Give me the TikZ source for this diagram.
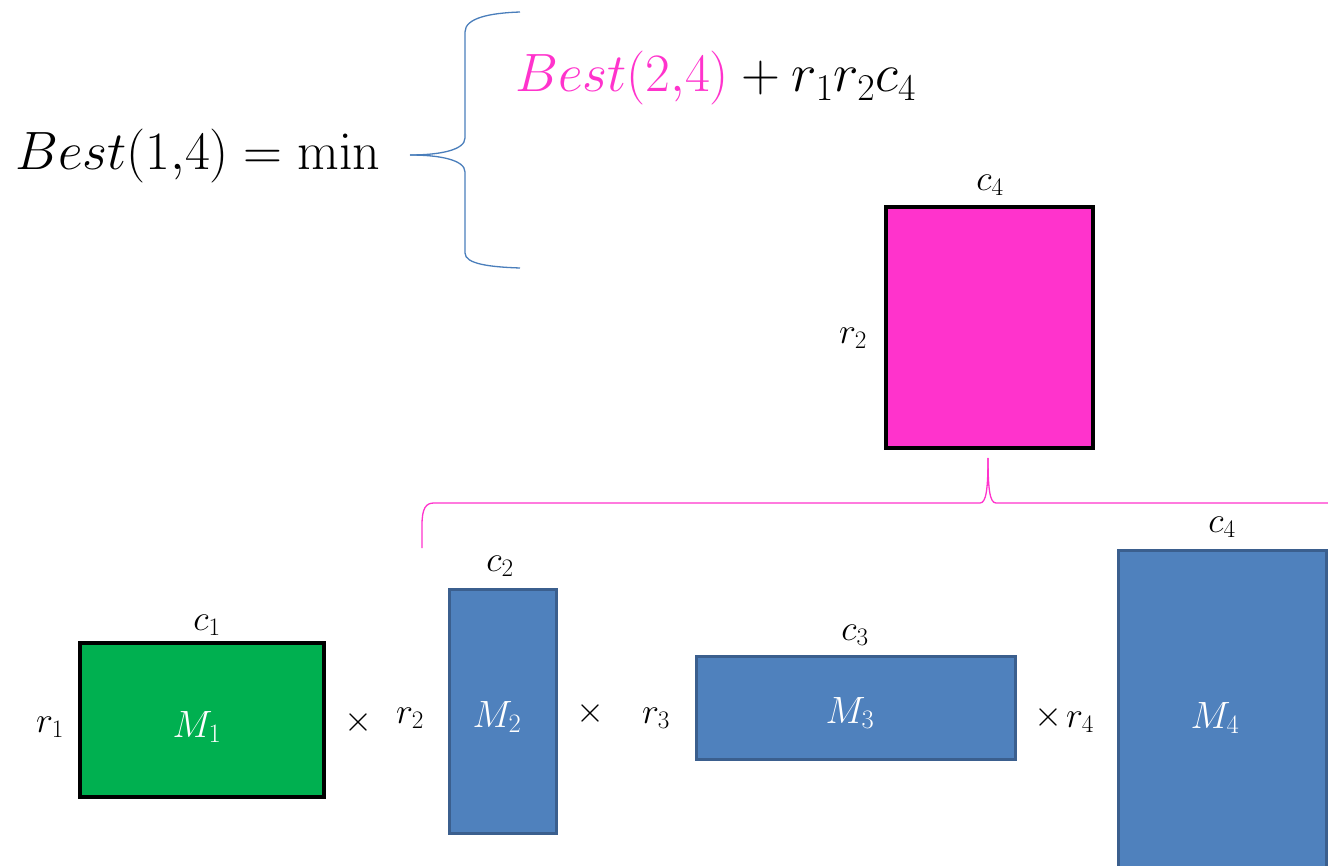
\RequirePackage{fix-cm}
\documentclass[tikz,border=0pt]{standalone}
\definecolor{pinkm}{HTML}{FF33CC}
\definecolor{greenm}{HTML}{00B050}
\definecolor{bluem}{HTML}{4F81BD}
\definecolor{blueb}{HTML}{3B5F8E}
\definecolor{bracebl}{HTML}{4A7EBB}
\tikzset{
  bigtext/.style={font=\fontsize{54}{64}\selectfont, inner sep=0pt},
  lbl/.style={font=\fontsize{36}{42}\selectfont, inner sep=0pt},
  mlbl/.style={font=\fontsize{38}{44}\selectfont, inner sep=0pt, text=white},
  blackbox/.style={draw=black, line width=3.5pt, inner sep=0pt, outer sep=0pt},
  bluebox/.style={draw=blueb, fill=bluem, line width=3pt, inner sep=0pt, outer sep=0pt},
  bluebrace/.style={draw=bracebl, line width=1.3pt},
  pinkbrace/.style={draw=pinkm, line width=1.3pt},
}
\begin{document}
\begin{tikzpicture}[x=1pt,y=-1pt]
\useasboundingbox (0,0) rectangle (1328,866);
\clip (0,0) rectangle (1328,866);

% equations
\node[bigtext, anchor=base west] (eqA) at (15,170) {$Best(1{,}4) = \min$};
\node[bigtext, anchor=base west] (eqB) at (515,92) {$\textcolor{pinkm}{Best(2{,}4)} + r_1r_2c_4$};

% blue brace
\coordinate (btip) at (410,155);
\coordinate (btop) at (520,12);
\coordinate (bbot) at (520,268);
\draw[bluebrace] (btop) .. controls (490,13) and (465,18) .. (465,32)
  -- (465,138) .. controls (465,150) and (440,155) .. (btip);
\draw[bluebrace] (btip) .. controls (440,155) and (465,160) .. (465,172)
  -- (465,253) .. controls (465,264) and (490,267) .. (bbot);

% pink result matrix
\node[blackbox, fill=pinkm, minimum width=207pt, minimum height=241pt] (P) at (989.5,327.5) {};
\node[lbl] (Pc) at (990,185) {$c_4$};
\node[lbl] (Pr) at (853,338) {$r_2$};

% pink brace
\coordinate (ptip) at (988,458);
\coordinate (pleft) at (422,548);
\coordinate (pright) at (1335,503);
\draw[pinkbrace] (pleft) -- (422,525) .. controls (422,508) and (426,503) .. (434,503)
  -- (980,503) .. controls (986,503) and (988,490) .. (ptip);
\draw[pinkbrace] (ptip) .. controls (988,490) and (990,503) .. (996,503) -- (pright);

% M1
\node[blackbox, fill=greenm, minimum width=244pt, minimum height=154pt] (M1) at (202,720) {};
\node[mlbl] at (197,727) {$M_1$};
\node[lbl] (c1) at (207,625) {$c_1$};
\node[lbl] (r1) at (50,727) {$r_1$};
\node[lbl] (x1) at (358,722) {$\times$};

% M2
\node[bluebox, minimum width=107pt, minimum height=244pt] (M2) at (502.5,711) {};
\node[mlbl] at (497,717) {$M_2$};
\node[lbl] (c2) at (500,566) {$c_2$};
\node[lbl] (r2) at (410,718) {$r_2$};
\node[lbl] (x2) at (590,713) {$\times$};

% M3
\node[bluebox, minimum width=319pt, minimum height=103pt] (M3) at (855.5,707.5) {};
\node[mlbl] at (850,713) {$M_3$};
\node[lbl] (c3) at (855,635) {$c_3$};
\node[lbl] (r3) at (656,718) {$r_3$};
\node[lbl] (x3) at (1048,717) {$\times$};

% M4
\node[bluebox, minimum width=208pt, minimum height=400pt] (M4) at (1222,750) {};
\node[mlbl] at (1215,718) {$M_4$};
\node[lbl] (c4) at (1222,527) {$c_4$};
\node[lbl] (r4) at (1080,722) {$r_4$};
\end{tikzpicture}
\end{document}
